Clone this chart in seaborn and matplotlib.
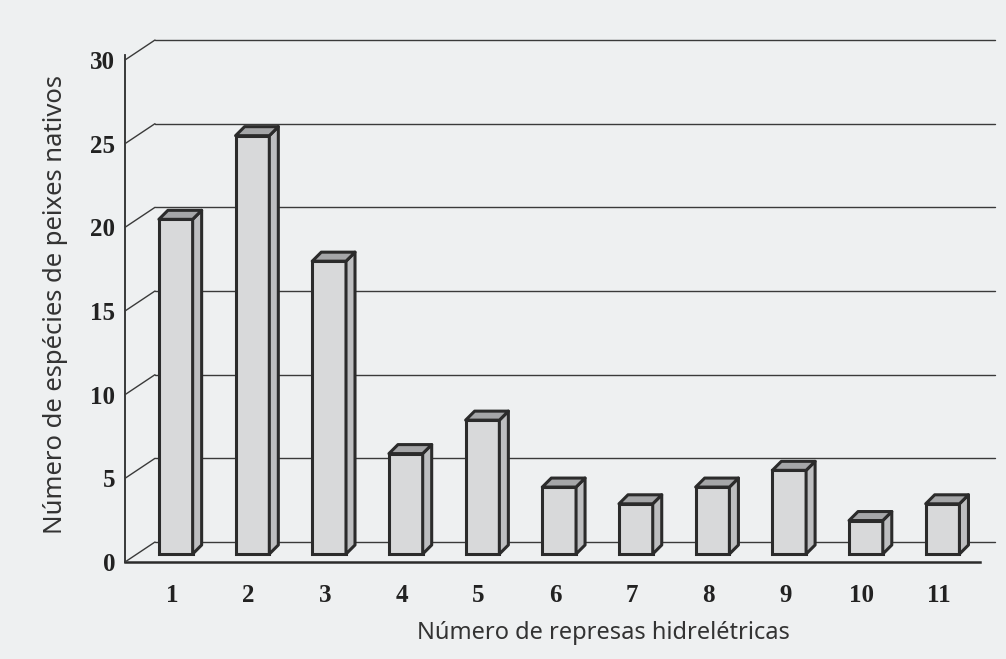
import matplotlib.pyplot as plt
import matplotlib.transforms as mtransforms
from matplotlib.patches import Polygon
import seaborn as sns
import pandas as pd
import numpy as np

# data
represas = ['1', '2', '3', '4', '5', '6', '7', '8', '9', '10', '11']
especies = [20, 25, 17.5, 6, 8, 4, 3, 4, 5, 2, 3]
y_ticks = [0, 5, 10, 15, 20, 25, 30]

df = pd.DataFrame({'represas': represas, 'especies': especies})

bg = '#eef0f1'
face_col = '#d8d9da'
top_col = '#a5a6a8'
side_col = '#bdbec0'
edge_col = '#2b2b2b'
grid_col = '#3a3a3a'

sns.set_style('white')
plt.rcParams['font.family'] = ['Noto Sans', 'DejaVu Sans']

W, H = 1006, 659
fig = plt.figure(figsize=(W / 100, H / 100), dpi=100, facecolor=bg)
# front plane of the pseudo-3D box
ax = fig.add_axes([125 / W, 1 - 562 / H, (980 - 125) / W, (562 - 60) / H])
ax.set_facecolor('none')

sns.barplot(data=df, x='represas', y='especies', color=face_col, width=0.44,
            edgecolor=edge_col, linewidth=2.2, saturation=1, ax=ax)

ax.set_xlim(-0.61, 10.54)
ax.set_ylim(0, 30)


def px_shift(dx, dy):
    """transData shifted by a number of pixels"""
    return ax.transData + mtransforms.ScaledTranslation(dx / 100, dy / 100, fig.dpi_scale_trans)


def to_fig(pts):
    return fig.transFigure.inverted().transform(np.array(pts))


# back wall, offset from the front plane in pixels
back_dx, back_dy = 30, 20
back = px_shift(back_dx, back_dy)
x0, x1 = ax.get_xlim()
for yv in y_ticks:
    ax.plot([x0, x1 - 0.2], [yv, yv], color=grid_col, lw=1.0, transform=back,
            clip_on=False, zorder=0)
    # slanted connector from front axis to back wall
    seg = to_fig([ax.transData.transform((x0, yv)), back.transform((x0, yv))])
    fig.lines.append(plt.Line2D(seg[:, 0], seg[:, 1], transform=fig.transFigure,
                                color=grid_col, lw=1.0))

# bars sit slightly behind the front plane
bar_dx, bar_dy = 4, 8
depth = np.array([9, 9])
tr = px_shift(bar_dx, bar_dy)
for patch in ax.patches:
    patch.set_transform(tr)
    patch.set_zorder(3)
    xb, w, h = patch.get_x(), patch.get_width(), patch.get_height()
    br = tr.transform((xb + w, 0))
    tl = tr.transform((xb, h))
    trc = tr.transform((xb + w, h))
    top = [tl, trc, trc + depth, tl + depth]
    side = [br, trc, trc + depth, br + depth]
    for pts, col in [(side, side_col), (top, top_col)]:
        fig.patches.append(Polygon(to_fig(pts), closed=True, facecolor=col,
                                   edgecolor=edge_col, linewidth=2.2,
                                   transform=fig.transFigure, joinstyle='round', zorder=4))

sns.despine(ax=ax, top=True, right=True)
ax.spines['left'].set_color(edge_col)
ax.spines['bottom'].set_color(edge_col)
ax.spines['left'].set_linewidth(1.3)
ax.spines['bottom'].set_linewidth(1.8)
ax.spines['left'].set_bounds(0, 30.3)

ax.set_yticks(y_ticks)
ax.set_yticklabels([str(v) for v in y_ticks], family='Liberation Serif',
                   fontweight='bold', fontsize=18, color='#222222')
ax.set_xticks(range(len(represas)))
ax.set_xticklabels(represas, family='Liberation Serif', fontweight='bold',
                   fontsize=18, color='#222222')
ax.tick_params(axis='both', length=0)
ax.tick_params(axis='y', pad=7)
ax.tick_params(axis='x', pad=16)

ax.set_xlabel('Número de represas hidrelétricas', fontsize=17, color='#333333')
ax.set_ylabel('Número de espécies de peixes nativos', fontsize=18.5, color='#333333')
ax.xaxis.set_label_coords((603 - 125) / (980 - 125), -(633 - 562) / (562 - 60), transform=ax.transAxes)
ax.yaxis.set_label_coords(-(125 - 56) / (980 - 125), (562 - 305) / (562 - 60), transform=ax.transAxes)
ax.xaxis.label.set_va('center')
ax.yaxis.label.set_va('center')

fig.savefig('out.png', dpi=100, facecolor=bg)
